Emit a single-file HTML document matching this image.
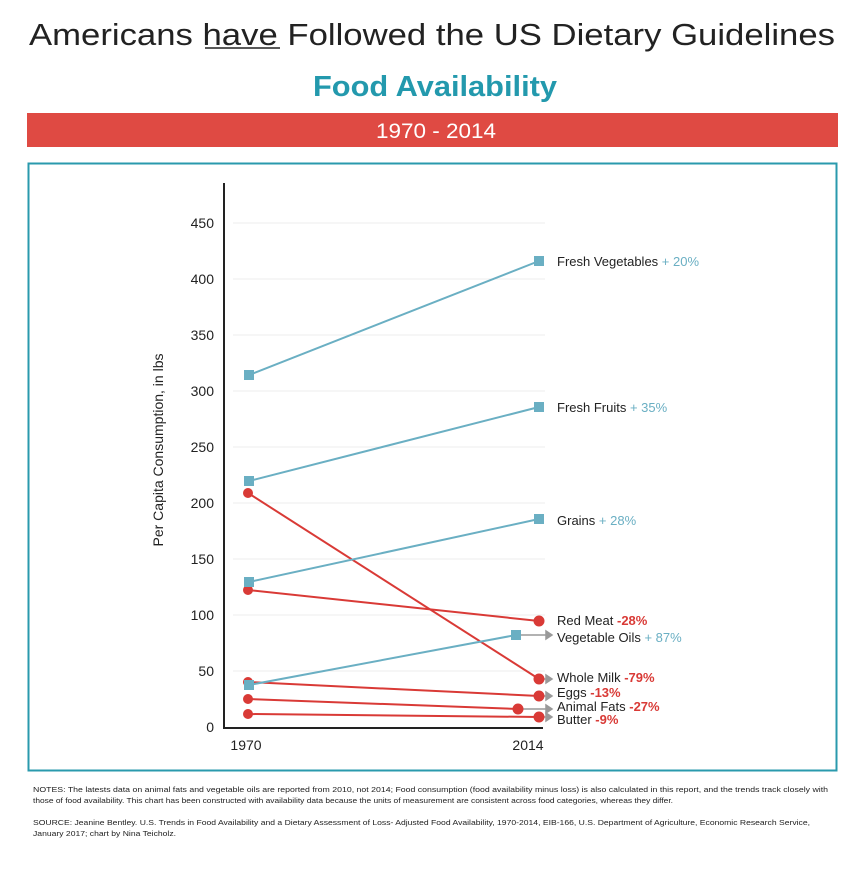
<!DOCTYPE html>
<html><head><meta charset="utf-8"><style>
body{margin:0;background:#fff;}
svg{display:block;font-family:"Liberation Sans",sans-serif;}
</style></head><body>
<svg width="864" height="869" viewBox="0 0 864 869">
<rect width="864" height="869" fill="#fff"/>
<text x="432" y="45" text-anchor="middle" font-size="31" fill="#222" textLength="806" lengthAdjust="spacingAndGlyphs">Americans have Followed the US Dietary Guidelines</text>
<line x1="205" y1="48" x2="280" y2="48" stroke="#222" stroke-width="1.5"/>
<text x="435" y="96" text-anchor="middle" font-size="29" font-weight="bold" fill="#2399ad" textLength="244" lengthAdjust="spacingAndGlyphs">Food Availability</text>
<rect x="27" y="113" width="811" height="34" fill="#df4a43"/>
<text x="436" y="138" text-anchor="middle" font-size="21" fill="#fff" textLength="120" lengthAdjust="spacingAndGlyphs">1970 - 2014</text>
<rect x="28.5" y="163.5" width="808" height="607" fill="none" stroke="#2a9aad" stroke-width="2"/>
<g stroke="#eee" stroke-width="1">
<line x1="233" y1="223" x2="545" y2="223"/><line x1="233" y1="279" x2="545" y2="279"/><line x1="233" y1="335" x2="545" y2="335"/><line x1="233" y1="391" x2="545" y2="391"/><line x1="233" y1="447" x2="545" y2="447"/><line x1="233" y1="503" x2="545" y2="503"/><line x1="233" y1="559" x2="545" y2="559"/><line x1="233" y1="615" x2="545" y2="615"/><line x1="233" y1="671" x2="545" y2="671"/>
</g>
<g font-size="14" fill="#222" text-anchor="end">
<text x="214" y="228">450</text><text x="214" y="284">400</text><text x="214" y="340">350</text><text x="214" y="396">300</text><text x="214" y="452">250</text><text x="214" y="508">200</text><text x="214" y="564">150</text><text x="214" y="620">100</text><text x="214" y="676">50</text><text x="214" y="732">0</text>
</g>
<text transform="translate(163,450) rotate(-90)" text-anchor="middle" font-size="14" fill="#222">Per Capita Consumption, in lbs</text>
<line x1="224" y1="183" x2="224" y2="729" stroke="#222" stroke-width="2"/>
<line x1="223" y1="728" x2="543" y2="728" stroke="#222" stroke-width="2"/>
<text x="246" y="750" text-anchor="middle" font-size="14" fill="#222">1970</text>
<text x="528" y="750" text-anchor="middle" font-size="14" fill="#222">2014</text>
<!-- arrows -->
<g stroke="#999" stroke-width="1.5" fill="#999">
<line x1="516" y1="635" x2="548" y2="635"/><path d="M546 631 L552 635 L546 639Z"/>
<line x1="538" y1="679" x2="548" y2="679"/><path d="M546 675 L552 679 L546 683Z"/>
<line x1="538" y1="696" x2="548" y2="696"/><path d="M546 692 L552 696 L546 700Z"/>
<line x1="518" y1="709" x2="548" y2="709"/><path d="M546 705 L552 709 L546 713Z"/>
<line x1="538" y1="717" x2="548" y2="717"/><path d="M546 713 L552 717 L546 721Z"/>
</g>
<!-- red -->
<g stroke="#d93a36" stroke-width="2" fill="#d93a36">
<line x1="248" y1="493" x2="539" y2="679"/><circle cx="248" cy="493" r="4"/><circle cx="539" cy="679" r="4.5"/>
<line x1="248" y1="590" x2="539" y2="621"/><circle cx="248" cy="590" r="4"/><circle cx="539" cy="621" r="4.5"/>
<line x1="248" y1="682" x2="539" y2="696"/><circle cx="248" cy="682" r="4"/><circle cx="539" cy="696" r="4.5"/>
<line x1="248" y1="699" x2="518" y2="709"/><circle cx="248" cy="699" r="4"/><circle cx="518" cy="709" r="4.5"/>
<line x1="248" y1="714" x2="539" y2="717"/><circle cx="248" cy="714" r="4"/><circle cx="539" cy="717" r="4.5"/>
</g>
<!-- blue -->
<g stroke="#6aafc3" stroke-width="2" fill="#6aafc3">
<line x1="249" y1="375" x2="539" y2="261"/><rect x="245" y="371" width="8" height="8"/><rect x="535" y="257" width="8" height="8"/>
<line x1="249" y1="481" x2="539" y2="407"/><rect x="245" y="477" width="8" height="8"/><rect x="535" y="403" width="8" height="8"/>
<line x1="249" y1="582" x2="539" y2="519"/><rect x="245" y="578" width="8" height="8"/><rect x="535" y="515" width="8" height="8"/>
<line x1="249" y1="685" x2="516" y2="635"/><rect x="245" y="681" width="8" height="8"/><rect x="512" y="631" width="8" height="8"/>
</g>
<g font-size="13" fill="#222">
<text x="557" y="266">Fresh Vegetables <tspan fill="#6aafc3">+ 20%</tspan></text>
<text x="557" y="412">Fresh Fruits <tspan fill="#6aafc3">+ 35%</tspan></text>
<text x="557" y="525">Grains <tspan fill="#6aafc3">+ 28%</tspan></text>
<text x="557" y="625">Red Meat <tspan fill="#d93a36" font-weight="bold">-28%</tspan></text>
<text x="557" y="642">Vegetable Oils <tspan fill="#6aafc3">+ 87%</tspan></text>
<text x="557" y="682">Whole Milk <tspan fill="#d93a36" font-weight="bold">-79%</tspan></text>
<text x="557" y="697">Eggs <tspan fill="#d93a36" font-weight="bold">-13%</tspan></text>
<text x="557" y="711">Animal Fats <tspan fill="#d93a36" font-weight="bold">-27%</tspan></text>
<text x="557" y="724">Butter <tspan fill="#d93a36" font-weight="bold">-9%</tspan></text>
</g>
<g font-size="7.5" fill="#222">
<text x="33" y="792" textLength="795" lengthAdjust="spacingAndGlyphs">NOTES: The latests data on animal fats and vegetable oils are reported from 2010, not 2014; Food consumption (food availability minus loss) is also calculated in this report, and the trends track closely with</text>
<text x="33" y="803" textLength="640" lengthAdjust="spacingAndGlyphs">those of food availability. This chart has been constructed with availability data because the units of measurement are consistent across food categories, whereas they differ.</text>
<text x="33" y="825" textLength="777" lengthAdjust="spacingAndGlyphs">SOURCE: Jeanine Bentley. U.S. Trends in Food Availability and a Dietary Assessment of Loss- Adjusted Food Availability, 1970-2014, EIB-166, U.S. Department of Agriculture, Economic Research Service,</text>
<text x="33" y="836" textLength="143" lengthAdjust="spacingAndGlyphs">January 2017; chart by Nina Teicholz.</text>
</g>
</svg>
</body></html>
